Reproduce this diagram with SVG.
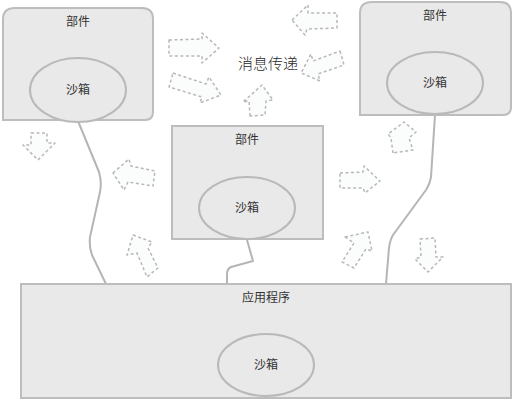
<svg xmlns="http://www.w3.org/2000/svg" width="513" height="400" viewBox="0 0 513 400">
  <style>
    .box { fill: #e9e9e9; stroke: #bdbdbd; stroke-width: 2; }
    .sandbox { fill: #e9e9e9; stroke: #b9b9b9; stroke-width: 2; }
    .lbl { font-family: "Liberation Sans", "Noto Sans CJK SC", sans-serif; font-size: 12px; fill: #333; text-anchor: middle; }
    .title { font-family: "Liberation Sans", "Noto Sans CJK SC", sans-serif; font-size: 15px; font-weight: 300; fill: #2a2a2a; text-anchor: middle; }
    .link { fill: none; stroke: #b5b5b5; stroke-width: 2; stroke-linejoin: round; }
    .msg { fill: #fbfcfc; stroke: #b8b8b8; stroke-width: 1.5; stroke-dasharray: 3 2.5; stroke-linejoin: round; }
  </style>
  <rect width="513" height="400" fill="#ffffff"/>

  <!-- links between sandboxes and the application -->
  <g id="connectors">
    <path class="link" d="M78,121 L99,172 Q102,182 100,192 L90,237 Q89,247 92,255 L106,284"/>
    <path class="link" d="M247,240 L253,261 L231,267 Q227,269 227,274 L227,284"/>
    <path class="link" d="M435,115 L431,177 Q430,184 426,190 L393,235 Q390,240 389,248 L386,284"/>
  </g>

  <!-- messaging arrows -->
  <g id="messages">
    <polygon class="msg" points="169,40 202,39 202,33 219,48 202,63 202,56 169,56"/>
    <polygon class="msg" points="173,73 206,84 209,77 221,95 200,103 202,97 169,87"/>
    <polygon class="msg" points="250,116 249,101 243,102 262,85 273,100 266,101 265,115"/>
    <polygon class="msg" points="292,20 308,5 308,13 337,13 337,28 307,29 305,35"/>
    <polygon class="msg" points="340,51 344,65 318,74 320,81 301,73 311,54 313,61"/>
    <polygon class="msg" points="31,133 47,133 47,143 55,143 38,160 23,145 31,145"/>
    <polygon class="msg" points="113,173 129,159 131,166 155,171 153,186 128,182 124,190"/>
    <polygon class="msg" points="393,153 391,138 388,134 404,122 416,132 409,138 413,150"/>
    <polygon class="msg" points="340,173 363,172 364,166 380,181 365,193 363,188 340,188"/>
    <polygon class="msg" points="133,235 152,242 148,248 158,268 147,277 137,253 127,255"/>
    <polygon class="msg" points="345,237 368,232 372,251 366,249 354,268 342,262 354,243"/>
    <polygon class="msg" points="420,239 435,238 436,257 443,257 428,272 415,259 421,257"/>
  </g>

  <text class="title" x="268" y="69">消息传递</text>

  <g id="component-left">
    <path class="box" d="M3,120 L3,19 Q3,8 15,8 L142,8 Q153,8 153,19 L153,112 Q153,120 145,120 Z"/>
    <text class="lbl" x="78" y="26">部件</text>
    <ellipse class="sandbox" cx="78" cy="90" rx="48" ry="32"/>
    <text class="lbl" x="78" y="94">沙箱</text>
  </g>

  <g id="component-right">
    <path class="box" d="M360,115 L360,13 Q360,2 372,2 L500,2 Q511,2 511,13 L511,107 Q511,115 503,115 Z"/>
    <text class="lbl" x="435" y="20">部件</text>
    <ellipse class="sandbox" cx="435" cy="83" rx="48" ry="31"/>
    <text class="lbl" x="435" y="87">沙箱</text>
  </g>

  <g id="component-middle">
    <rect class="box" x="172" y="126" width="151" height="113"/>
    <text class="lbl" x="247" y="144">部件</text>
    <ellipse class="sandbox" cx="247" cy="208" rx="48" ry="31"/>
    <text class="lbl" x="247" y="212">沙箱</text>
  </g>

  <g id="application">
    <rect class="box" x="21" y="284" width="490" height="114"/>
    <text class="lbl" x="266" y="302">应用程序</text>
    <ellipse class="sandbox" cx="266" cy="365" rx="48" ry="31"/>
    <text class="lbl" x="266" y="369">沙箱</text>
  </g>
</svg>
